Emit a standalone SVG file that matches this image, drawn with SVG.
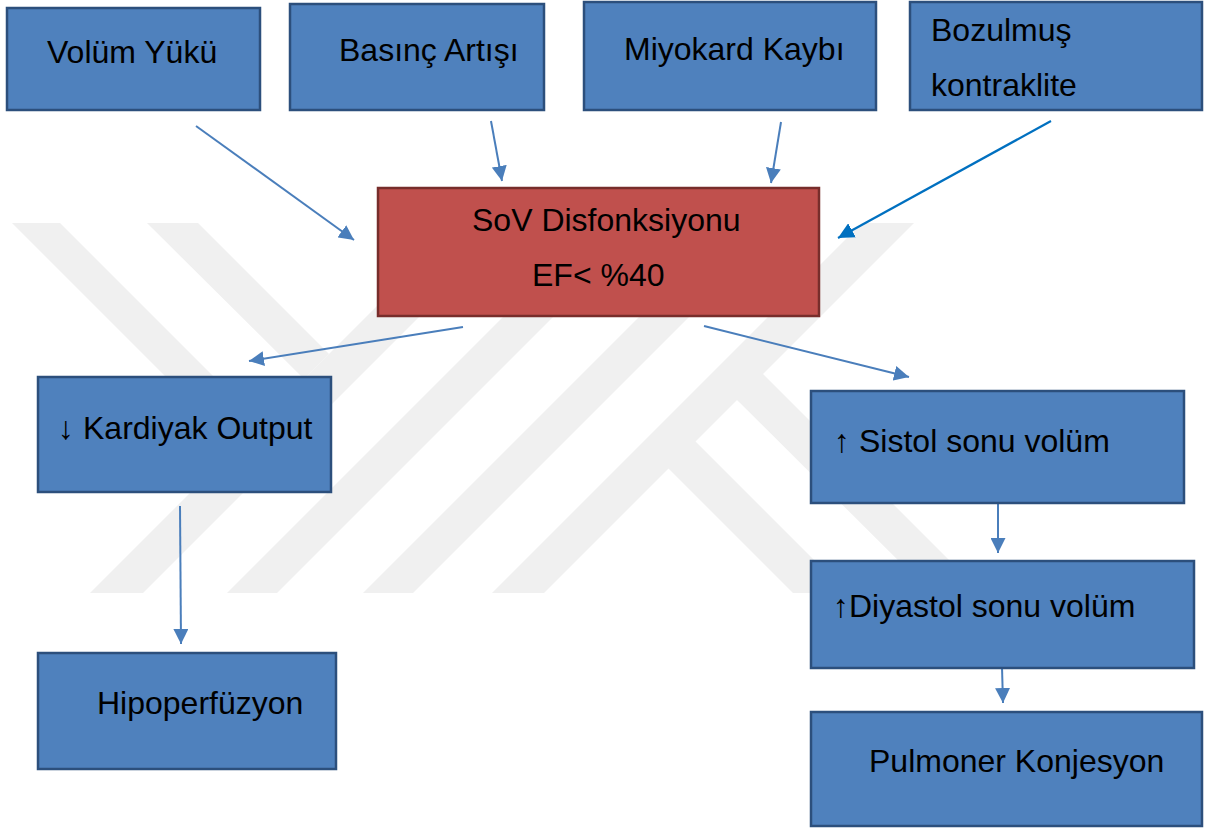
<svg xmlns="http://www.w3.org/2000/svg" width="1219" height="828" viewBox="0 0 1219 828">
<defs>
<style>
.box{fill:#4f81bd;stroke:#2c4f7c;stroke-width:2.5}
.red{fill:#c0504d;stroke:#772d2b;stroke-width:2.5}
.t{font-family:"Liberation Sans",Arial,sans-serif;font-size:32px;fill:#000}
.c{stroke:#4a7ebb;stroke-width:2;fill:none;marker-end:url(#ah)}
.c2{stroke:#0070c0;stroke-width:2.2;fill:none;marker-end:url(#ah2)}
.wm{fill:#f0f0f0}
</style>
<marker id="ah" viewBox="0 0 14 14" refX="14" refY="7" markerWidth="15" markerHeight="15" markerUnits="userSpaceOnUse" orient="auto">
<path d="M0,0 L14,7 L0,14 z" fill="#4a7ebb"/>
</marker>
<marker id="ah2" viewBox="0 0 14 14" refX="14" refY="7" markerWidth="16" markerHeight="16" markerUnits="userSpaceOnUse" orient="auto">
<path d="M0,0 L14,7 L0,14 z" fill="#0070c0"/>
</marker>
</defs>
<rect width="1219" height="828" fill="#fff"/>
<g id="watermark">
<polygon class="wm" points="12,223 60,223 260,423 236,447"/>
<polygon class="wm" points="147,223 198,223 329,354 304,379"/>
<polygon class="wm" points="460,223 513,223 143,593 90,593"/>
<polygon class="wm" points="597,223 647,223 277,593 227,593"/>
<polygon class="wm" points="733,223 783,223 413,593 363,593"/>
<polygon class="wm" points="862,223 914,223 544,593 492,593"/>
<polygon class="wm" points="667,467 694,440 847,593 793,593"/>
<polygon class="wm" points="736,399 762,373 982,593 931,593"/>
</g>
<g id="connectors">
<line class="c" x1="196" y1="126" x2="354" y2="240"/>
<line class="c" x1="491" y1="121" x2="502" y2="181"/>
<line class="c" x1="781" y1="122" x2="771" y2="183"/>
<line class="c2" x1="1051" y1="121" x2="838" y2="238"/>
<line class="c" x1="463" y1="327" x2="249" y2="361"/>
<line class="c" x1="704" y1="326" x2="909" y2="377"/>
<line class="c" x1="180" y1="506" x2="181" y2="644"/>
<line class="c" x1="998" y1="503" x2="998" y2="553"/>
<line class="c" x1="1002" y1="667" x2="1003" y2="703"/>
</g>
<g id="volum">
<rect class="box" x="7" y="8" width="253" height="102"/>
<text class="t" x="47" y="63">Volüm Yükü</text>
</g>
<g id="basinc">
<rect class="box" x="290" y="4" width="254" height="106"/>
<text class="t" x="339" y="61">Basınç Artışı</text>
</g>
<g id="miyokard">
<rect class="box" x="584" y="2" width="292" height="108"/>
<text class="t" x="624" y="60">Miyokard Kaybı</text>
</g>
<g id="bozulmus">
<rect class="box" x="910" y="2" width="292" height="108"/>
<text class="t" x="931" y="41">Bozulmuş</text>
<text class="t" x="931" y="96">kontraklite</text>
</g>
<g id="sov">
<rect class="red" x="378" y="188" width="441" height="128"/>
<text class="t" x="472" y="231">SoV Disfonksiyonu</text>
<text class="t" x="532" y="286">EF&lt; %40</text>
</g>
<g id="kardiyak">
<rect class="box" x="38" y="377" width="293" height="115"/>
<text class="t" y="439"><tspan x="58">↓</tspan><tspan x="83">Kardiyak Output</tspan></text>
</g>
<g id="hipoperfuzyon">
<rect class="box" x="38" y="653" width="298" height="116"/>
<text class="t" x="97" y="714">Hipoperfüzyon</text>
</g>
<g id="sistol">
<rect class="box" x="811" y="391" width="373" height="112"/>
<text class="t" y="452"><tspan x="834">↑</tspan><tspan x="859">Sistol sonu volüm</tspan></text>
</g>
<g id="diyastol">
<rect class="box" x="811" y="561" width="383" height="107"/>
<text class="t" y="617"><tspan x="833">↑</tspan><tspan x="849">Diyastol sonu volüm</tspan></text>
</g>
<g id="pulmoner">
<rect class="box" x="811" y="712" width="391" height="114"/>
<text class="t" x="869" y="772">Pulmoner Konjesyon</text>
</g>
</svg>
